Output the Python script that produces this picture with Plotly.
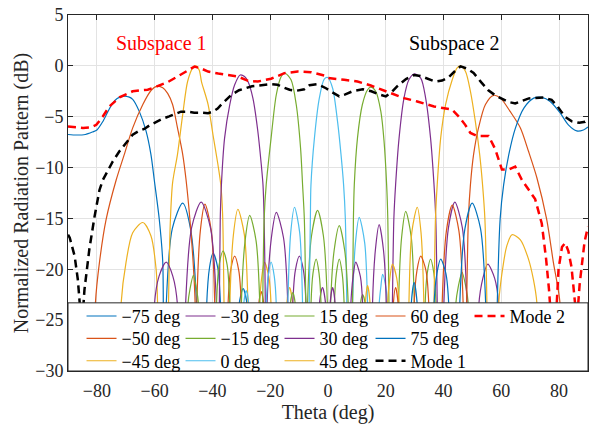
import plotly.graph_objects as go

# ---- steered beam patterns (theta in deg, normalized gain in dB) ----
theta_m75 = [-90, -87, -84, -81.5, -80, -78, -76.2, -74.5, -73, -71, -69, -67.6, -65.3, -63, -61.3, -60.1, -58.4, -57.2, -56.5,
             -56.3, -56.0, -53.9, -50.3, -47.6, -45.5, -45.2,
             -42.3, -42.0, -41.0, -39.8, -38.2, -37.2, -36.9,
             -31.1, -30.8, -29.4, -28.0, -27.7]
db_m75 = [-6.75, -6.8, -6.75, -6.5, -6.3, -5.5, -4.5, -3.66, -3.2, -3.0, -3.05, -3.3, -4.5, -6.4, -8.7, -11.3, -15.1, -19.3, -35,
          -35, -23.5, -16.0, -13.5, -16.0, -23.5, -35,
          -35, -23.5, -19.8, -18.4, -19.8, -23.5, -35,
          -35, -23.5, -21.9, -23.5, -35]

theta_m50 = [-81.1, -80.5, -79.1, -76.8, -73.3, -70.5, -67.6, -64.1, -61.2, -59.2, -57.2, -55.5, -53.8, -52.1, -50.3, -49.1, -47.8, -46.6, -46.0, -45.7,
             -45.6, -45.4, -44.15, -42.6, -40.45, -39.2, -38.9,
             -34.9, -34.6, -33.7, -32.3, -30.9, -30.0, -29.7,
             -24.3, -24.0, -23.1, -22.2, -21.9]
db_m50 = [-35, -23.3, -19.3, -15.1, -11.2, -8.7, -6.1, -3.8, -2.4, -2.0, -2.15, -2.7, -3.8, -6.1, -8.7, -11.3, -15.1, -19.7, -23.3, -35,
          -35, -23.5, -16.1, -13.6, -16.1, -23.5, -35,
          -35, -23.5, -20.1, -18.7, -20.1, -23.5, -35,
          -35, -23.5, -22.2, -23.5, -35]

theta_m45 = [-72.0, -71.6, -69.9, -67.6, -64.1, -61.3, -59.5, -59.0, -58.7,
             -55.7, -55.2, -54.6, -53.8, -52.1, -50.3, -48.6, -46.8, -45.8, -44.6, -43.8, -41.5, -39.8, -38.1, -37.1, -36.5, -36.0, -35.7,
             -34.3, -34.0, -32.74, -31.2, -28.96, -27.7, -27.4,
             -24.0, -23.7, -22.9, -22.0, -20.5, -19.7, -19.4,
             -14.6, -14.3, -13.3, -12.2, -11.9]
db_m45 = [-35, -23.3, -19.3, -16.4, -15.4, -16.7, -20.0, -23.3, -35,
          -35, -23.3, -15.5, -11.5, -8.7, -4.8, -1.54, -0.2, 0.0, -0.4, -1.54, -3.8, -6.8, -9.7, -11.7, -14.5, -23.3, -35,
          -35, -23.5, -16.6, -14.1, -16.6, -23.5, -35,
          -35, -23.5, -20.7, -19.3, -20.7, -23.5, -35,
          -35, -23.5, -21.8, -23.5, -35]

theta_m30 = [-60.4, -60.1, -58.5, -56.0, -53.7, -52.1, -51.8,
             -49.6, -49.3, -47.2, -43.9, -40.7, -38.6, -38.3,
             -38.2, -37.6, -37.3, -36.9, -35.8, -34.0, -32.3, -30.4, -28.9, -27.7, -26.0, -24.3, -23.1, -22.5, -22.1, -21.7, -21.5,
             -21.3, -21.1, -19.6, -17.9, -15.4, -13.9, -13.6,
             -12.5, -12.2, -11.3, -9.9, -8.5, -7.6, -7.3,
             -3.3, -3.0, -1.9, -0.8, -0.5]
db_m30 = [-35, -23.5, -20.7, -19.3, -20.7, -23.5, -35,
          -35, -23.5, -15.9, -13.4, -15.9, -23.5, -35,
          -35, -23.3, -15.1, -11.7, -7.1, -3.8, -1.86, -0.9, -1.05, -1.54, -3.17, -6.4, -9.7, -11.7, -15.1, -23.3, -35,
          -35, -23.5, -16.9, -14.4, -16.9, -23.5, -35,
          -35, -23.5, -20.1, -18.7, -20.1, -23.5, -35,
          -35, -23.5, -21.8, -23.5, -35]

theta_m15 = [-48.8, -48.5, -47.75, -46.6, -45.55, -44.8, -44.5,
             -38.9, -38.6, -37.7, -36.3, -34.9, -34.0, -33.7,
             -30.3, -30.0, -28.7, -27.1, -24.9, -23.6, -23.3,
             -23.1, -22.6, -22.1, -21.4, -19.7, -17.9, -16.2, -15.0, -12.8, -11.0, -9.5, -8.8, -8.2, -7.7, -7.4,
             -7.3, -7.1, -5.7, -3.6, -1.6, -0.2, 0.1,
             1.9, 2.2, 2.9, 3.9, 4.9, 5.6, 5.9,
             10.9, 11.2, 12.0, 12.9, 13.2]
db_m15 = [-35, -23.5, -21.9, -20.6, -21.9, -23.5, -35,
          -35, -23.5, -19.6, -18.2, -19.6, -23.5, -35,
          -35, -23.5, -17.2, -14.7, -17.2, -23.5, -35,
          -35, -23.3, -15.0, -11.7, -7.1, -2.84, -1.05, -0.7, -1.37, -3.8, -8.07, -11.7, -15.0, -23.3, -35,
          -35, -23.5, -16.7, -14.2, -16.7, -23.5, -35,
          -35, -23.5, -20.4, -19.0, -20.4, -23.5, -35,
          -35, -23.5, -22.5, -23.5, -35]

theta_0 = [-29.5, -29.2, -28.3, -27.4, -27.1,
           -21.7, -21.4, -20.7, -19.7, -18.6, -17.9, -17.6,
           -14.2, -13.9, -12.9, -11.6, -9.8, -8.8, -8.5,
           -7.1, -6.5, -6.1, -5.9, -4.7, -3.0, -1.3, -0.1, 1.6, 3.3, 4.5, 5.4, 6.0, 6.5, 7.0,
           8.2, 8.5, 9.5, 10.8, 12.7, 13.7, 14.0,
           17.4, 17.7, 18.3, 18.9, 20.0, 20.6, 20.9]
db_0 = [-35, -23.5, -22.1, -23.5, -35,
        -35, -23.5, -20.7, -19.3, -20.7, -23.5, -35,
        -35, -23.5, -16.4, -13.9, -16.4, -23.5, -35,
        -35, -23.3, -15.0, -11.7, -7.1, -3.17, -1.3, -1.15, -2.2, -5.46, -8.7, -11.7, -15.0, -23.3, -35,
        -35, -23.5, -17.4, -14.9, -17.4, -23.5, -35,
        -35, -23.5, -21.7, -20.5, -21.7, -23.5, -35]

theta_p15 = [-13.4, -13.1, -12.2, -11.3, -11.0,
             -6.2, -5.9, -5.2, -4.1, -3.1, -2.4, -2.1,
             0.6, 0.9, 2.1, 3.9, 5.8, 7.0, 7.3,
             8.0, 8.5, 8.8, 9.1, 10.2, 11.9, 13.7, 14.8, 16.5, 18.3, 19.4, 20.3, 20.7, 21.1, 21.5,
             24.1, 24.4, 25.5, 26.9, 28.8, 29.9, 30.2,
             33.3, 33.6, 34.35, 35.5, 36.65, 37.4, 37.7,
             43.9, 44.2, 45.1, 46.4, 47.7, 48.6, 48.9]
db_p15 = [-35, -23.5, -22.3, -23.5, -35,
          -35, -23.5, -20.4, -19.0, -20.4, -23.5, -35,
          -35, -23.5, -18.2, -15.7, -18.2, -23.5, -35,
          -35, -23.3, -15.0, -11.7, -7.1, -3.8, -2.35, -2.1, -2.5, -4.5, -7.4, -11.7, -15.0, -23.3, -35,
          -35, -23.5, -16.8, -14.3, -16.8, -23.5, -35,
          -35, -23.5, -20.4, -19.0, -20.4, -23.5, -35,
          -35, -23.5, -21.7, -20.3, -21.7, -23.5, -35]

theta_p30 = [0.4, 0.7, 1.6, 2.5, 2.8,
             7.6, 7.9, 8.7, 9.6, 11.2, 12.0, 12.3,
             15.1, 15.4, 16.4, 17.7, 19.2, 20.2, 20.5,
             21.8, 22.3, 22.8, 23.4, 24.6, 26.3, 28.0, 29.8, 32.1, 33.8, 35.5, 36.7, 37.3, 37.8, 38.2,
             39.8, 40.1, 41.7, 43.9, 46.5, 48.1, 48.4,
             51.9, 52.2, 53.6, 55.3, 57.7, 59.1, 59.4]
db_p30 = [-35, -23.5, -21.8, -23.5, -35,
          -35, -23.5, -20.7, -19.3, -20.7, -23.5, -35,
          -35, -23.5, -18.1, -15.6, -18.1, -23.5, -35,
          -35, -23.3, -15.0, -11.7, -7.1, -3.17, -1.37, -0.8, -1.2, -3.17, -7.1, -11.7, -15.0, -23.3, -35,
          -35, -23.5, -15.9, -13.4, -15.9, -23.5, -35,
          -35, -23.5, -20.9, -19.5, -20.9, -23.5, -35]

theta_p45 = [12.6, 12.9, 13.7, 14.6, 14.9,
             20.3, 20.6, 21.4, 22.3, 23.8, 24.6, 24.9,
             27.7, 28.0, 29.0, 30.9, 32.2, 33.2, 33.5,
             36.1, 36.7, 37.2, 37.8, 39.0, 40.7, 43.0, 44.7, 45.9, 47.6, 49.3, 51.0, 52.5, 53.5, 54.3, 55.0, 55.4,
             58.8, 59.1, 60.8, 61.9, 63.7, 66.6, 69.4, 71.1, 72.3, 72.6]
db_p45 = [-35, -23.5, -21.6, -23.5, -35,
          -35, -23.5, -20.9, -19.5, -20.9, -23.5, -35,
          -35, -23.5, -16.4, -13.9, -16.4, -23.5, -35,
          -35, -23.3, -15.0, -11.7, -7.1, -3.8, -1.37, -0.2, 0.0, -0.55, -2.5, -5.46, -8.7, -11.7, -15.0, -23.3, -35,
          -35, -23.3, -19.3, -17.7, -16.6, -17.1, -19.0, -21.0, -23.3, -35]

theta_p60 = [22.3, 22.6, 23.4, 24.3, 24.6,
             29.5, 29.8, 30.8, 32.1, 33.9, 34.9, 35.2,
             39.2, 39.5, 41.0, 43.0, 45.3, 46.8, 47.1,
             47.4, 48.0, 48.6, 49.3, 50.4, 52.1, 54.5, 57.3, 59.7, 63.1, 66.6, 69.4, 72.3, 75.7, 78.0, 80.3, 80.8]
db_p60 = [-35, -23.5, -21.8, -23.5, -35,
          -35, -23.5, -20.1, -18.7, -20.1, -23.5, -35,
          -35, -23.5, -16.2, -13.7, -16.2, -23.5, -35,
          -35, -23.3, -15.0, -11.7, -8.7, -6.1, -3.8, -2.9, -3.17, -4.5, -6.1, -8.4, -11.0, -15.1, -19.3, -23.3, -35]

theta_p75 = [28.5, 28.8, 29.8, 30.9, 31.2,
             36.4, 36.7, 37.7, 39.0, 40.8, 41.8, 42.1,
             45.3, 45.6, 47.4, 49.9, 52.8, 54.6, 54.9,
             58.0, 58.6, 59.6, 60.8, 62.6, 64.9, 67.8, 71.2, 74.0, 76.9, 80.3, 83.2, 86.1, 88.4, 90.0]
db_p75 = [-35, -23.5, -21.3, -23.5, -35,
          -35, -23.5, -20.4, -19.0, -20.4, -23.5, -35,
          -35, -23.5, -16.0, -13.5, -16.0, -23.5, -35,
          -35, -23.3, -15.0, -11.7, -8.7, -6.1, -4.15, -3.17, -3.1, -3.5, -4.6, -5.8, -6.4, -6.3, -6.0]

# ---- mode envelopes ----
theta_mode1 = [-90, -89.4, -87.7, -86.6, -85.6, -84.9, -84.3, -82.6, -80.8, -79.1, -77.9, -76, -74.5, -72.2, -69.8, -67.6,
               -65.5, -63.6, -61.5, -59.5, -57.2, -55, -53, -50.9, -48.5, -46.3, -43.8, -41.5, -39.8, -38.2, -36.9, -35.2,
               -33.4, -30.8, -28.9, -26.3, -23.7, -19.7, -17.5, -16.2, -13.3, -11, -8.2, -6.4, -3.6, -0.7, 1.5, 3.9, 6,
               8.5, 12, 15, 17.5, 20, 22, 24, 27, 29.8, 32, 34.3, 37.2, 39.5, 41.8, 44, 45.9, 48, 50.4, 53, 55.5, 57.9,
               60.5, 62.5, 64.8, 67, 69.5, 71.7, 74.6, 77.4, 79.5, 82, 84.4, 87, 89, 90]
db_mode1 = [-16.6, -16.9, -18.7, -21.0, -24.5, -24.5, -22.0, -18.0, -14.8, -12.2, -11.2, -10.2, -9.4, -8.4, -7.5, -6.76,
            -6.4, -6.2, -5.8, -5.5, -5.2, -4.97, -4.75, -4.5, -4.5, -4.6, -4.6, -4.65, -4.5, -4.2, -3.8, -3.3,
            -2.84, -2.4, -2.2, -2.0, -1.93, -1.8, -1.85, -2.03, -2.35, -2.45, -2.3, -1.9, -1.8, -2.2, -2.6, -3.0, -2.8,
            -2.5, -2.3, -2.5, -2.8, -3.0, -2.6, -2.0, -1.3, -0.9, -1.0, -1.25, -1.55, -1.45, -1.1, -0.5, -0.05, -0.25,
            -0.7, -1.6, -2.4, -2.9, -3.3, -3.55, -3.7, -3.5, -3.2, -3.15, -3.1, -3.35, -4.0, -5.0, -5.45, -5.6, -5.5, -5.25]

theta_mode2 = [-90, -87, -84.8, -82, -80.2, -78, -75.7, -72.2, -70, -67.6, -65, -62.4, -59, -55.5, -52.7, -49.2, -46.2,
               -44, -41.5, -38, -34.6, -31.2, -27.7, -24.3, -19.7, -15.1, -10.5, -5.9, -1.3, 0, 5.6, 10.2, 14.8, 20.6,
               26.3, 30.9, 36.7, 43, 45.3, 47.5, 49.3, 51.6, 55.6, 57.9, 60.2, 62.5, 64.8, 67.1, 69.4, 71.7, 74, 75.5,
               76.5, 77.5, 78.7, 79.8, 81, 82.1, 83.2, 84.3, 85.4, 86.2, 87.1, 87.8, 88.8, 90]
db_mode2 = [-5.95, -6.05, -6.1, -6.05, -5.8, -5.0, -4.0, -3.1, -2.85, -2.5, -2.4, -2.35, -2.0, -1.6, -1.15, -0.55, -0.07,
            -0.25, -0.56, -0.75, -0.9, -1.05, -1.47, -1.54, -1.27, -0.72, -0.56, -0.62, -0.95, -1.2, -1.37, -1.54, -1.93, -2.52,
            -3.17, -3.5, -3.99, -4.3, -5.0, -5.8, -6.6, -6.9, -6.9, -8.2, -10.2, -10.2, -9.9, -11.2, -12.2, -13.1, -15.5, -19.0,
            -22.0, -26.0, -26.0, -20.0, -17.8, -17.4, -18.2, -19.8, -23.0, -25.0, -21.5, -19.7, -17.3, -15.8]

beam_names = ["\u221275 deg", "\u221250 deg", "\u221245 deg", "\u221230 deg", "\u221215 deg", "0 deg",
              "15 deg", "30 deg", "45 deg", "60 deg", "75 deg"]
beam_theta = [theta_m75, theta_m50, theta_m45, theta_m30, theta_m15, theta_0,
              theta_p15, theta_p30, theta_p45, theta_p60, theta_p75]
beam_db = [db_m75, db_m50, db_m45, db_m30, db_m15, db_0,
           db_p15, db_p30, db_p45, db_p60, db_p75]
beam_colors = ["#0072BD", "#D95319", "#EDB120", "#7E2F8E", "#77AC30", "#4DBEEE",
               "#77AC30", "#7E2F8E", "#EDB120", "#D95319", "#0072BD"]
# legend laid out column by column: 3 rows, one legend object per row
beam_rows = ["legend", "legend2", "legend3", "legend", "legend2", "legend3",
             "legend", "legend2", "legend3", "legend", "legend2"]
beam_cols = [0, 0, 0, 1, 1, 1, 2, 2, 2, 3, 3]
col_widths = [54, 54, 46, 54, 54]

x_ticks = [-80, -60, -40, -20, 0, 20, 40, 60, 80]
x_ticktext = ["\u221280", "\u221260", "\u221240", "\u221220", "0", "20", "40", "60", "80"]
y_ticks = [-30, -25, -20, -15, -10, -5, 0, 5]
y_ticktext = ["\u221230", "\u221225", "\u221220", "\u221215", "\u221210", "\u22125", "0", "5"]

FONT = "Liberation Serif"
AX = "#262626"

fig = go.Figure()

for i, (name, th, db, col) in enumerate(zip(beam_names, beam_theta, beam_db, beam_colors)):
    fig.add_trace(go.Scatter(x=th, y=db, mode="lines", name=name, legend=beam_rows[i],
                             legendrank=beam_cols[i], legendwidth=col_widths[beam_cols[i]],
                             line=dict(color=col, width=1.2, shape="spline", smoothing=0.8)))

fig.add_trace(go.Scatter(x=theta_mode1, y=db_mode1, mode="lines", name="Mode 1", legend="legend3",
                         legendrank=3, legendwidth=col_widths[3],
                         line=dict(color="black", width=2.5, dash="8px,5px")))
fig.add_trace(go.Scatter(x=theta_mode2, y=db_mode2, mode="lines", name="Mode 2", legend="legend",
                         legendrank=4, legendwidth=col_widths[4],
                         line=dict(color="#FF0000", width=2.5, dash="8px,5px")))

# white legend panel with a frame along the bottom of the axes
fig.add_shape(type="rect", xref="paper", x0=0, x1=1, yref="y", y0=-30, y1=-23.3,
              fillcolor="white", line=dict(color=AX, width=1), layer="above")

fig.add_annotation(x=-57.6, y=2.2, text="Subspace 1", showarrow=False,
                   font=dict(family=FONT, size=20, color="#FF0000"))
fig.add_annotation(x=43.8, y=2.2, text="Subspace 2", showarrow=False,
                   font=dict(family=FONT, size=20, color="black"))

axis_common = dict(showline=True, linecolor=AX, linewidth=1, mirror="ticks",
                   ticks="inside", ticklen=5, tickcolor=AX, showgrid=True,
                   gridcolor="#e3e3e3", gridwidth=1, zeroline=False,
                   tickfont=dict(family=FONT, size=18, color=AX))

fig.update_xaxes(range=[-90, 90], tickvals=x_ticks, ticktext=x_ticktext, ticklabelstandoff=3,
                 title=dict(text="Theta (deg)", font=dict(family=FONT, size=20, color=AX), standoff=5),
                 **axis_common)
fig.update_yaxes(range=[-30, 5], tickvals=y_ticks, ticktext=y_ticktext,
                 title=dict(text="Normalized Radiation Pattern (dB)", font=dict(family=FONT, size=20, color=AX), standoff=1),
                 **axis_common)

legend_common = dict(orientation="h", x=0.026, xanchor="left", yanchor="middle",
                     bgcolor="rgba(0,0,0,0)", borderwidth=0,
                     font=dict(family=FONT, size=18, color="black"), itemwidth=30)

fig.update_layout(
    width=594, height=425,
    margin=dict(l=68, r=5, t=15, b=52),
    paper_bgcolor="white", plot_bgcolor="white",
    showlegend=True,
    legend=dict(y=0.1536, **legend_common),
    legend2=dict(y=0.0908, **legend_common),
    legend3=dict(y=0.0279, **legend_common),
)

fig.write_html("out.html")
